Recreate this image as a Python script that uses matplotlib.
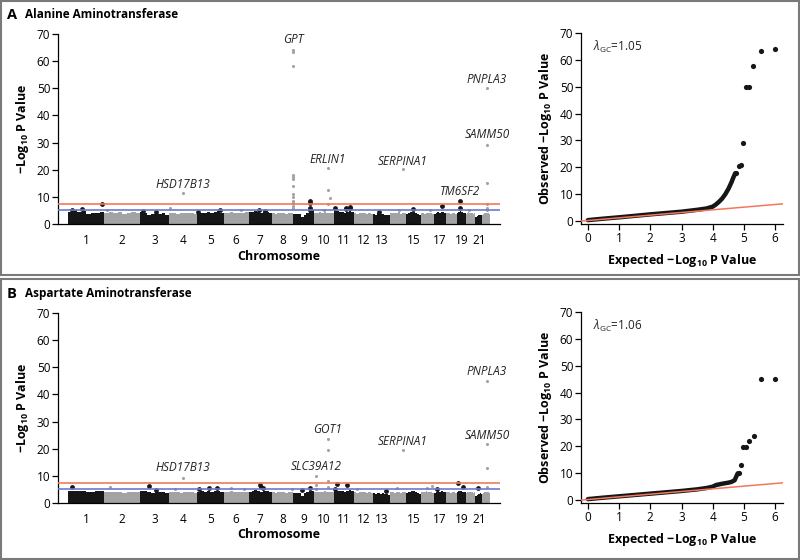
import numpy as np
import matplotlib
matplotlib.use('Agg')
import matplotlib.pyplot as plt
from matplotlib.patches import Rectangle

plt.rcParams['font.family'] = ['Open Sans', 'DejaVu Sans']
plt.rcParams['mathtext.fontset'] = 'custom'
plt.rcParams['mathtext.rm'] = 'Open Sans'
plt.rcParams['mathtext.it'] = 'Open Sans:italic'
plt.rcParams['mathtext.bf'] = 'Open Sans:bold'

# chromosome lengths (Mb), used as the x scale of the Manhattan plots
chrom_len = [249, 243, 198, 191, 181, 171, 159, 146, 141, 136, 135, 134,
             115, 107, 103, 90, 81, 78, 59, 63, 48, 51]
chrom_tick_labels = ['1', '2', '3', '4', '5', '6', '7', '8', '9', '10', '11', '12',
                     '13', '', '15', '', '17', '', '19', '', '21', '']

# upper edge of the dense mass of SNPs, per chromosome
sky_A = [[4.6, 5.2, 4.5, 4.8, 3.8, 4.2, 4.0, 4.4],
         [4.2, 4.3, 4.0, 4.4, 3.8, 4.1, 4.3, 4.0],
         [4.5, 4.2, 3.5, 3.8, 4.0, 3.6, 3.9, 3.4],
         [4.0, 4.2, 3.8, 4.0, 4.1, 3.9, 4.0, 3.8],
         [3.8, 4.2, 3.9, 4.3, 4.0, 4.4, 4.7, 4.0],
         [4.2, 4.0, 4.5, 4.1, 3.9, 4.2, 4.0, 4.3],
         [4.3, 4.5, 4.8, 4.3, 4.0, 4.5, 4.6, 4.2],
         [4.0, 3.8, 4.2, 3.9, 4.1, 3.8, 4.0, 4.2],
         [3.8, 3.8, 3.7, 2.4, 3.5, 4.0, 4.5, 5.0],
         [4.2, 4.0, 4.3, 4.1, 4.5, 4.2, 3.9, 4.0],
         [5.5, 4.8, 4.3, 4.5, 4.0, 4.6, 5.0, 4.5],
         [4.0, 3.8, 4.2, 3.9, 4.1, 3.7, 4.0, 3.8],
         [3.8, 3.5, 4.0, 3.6, 3.8, 3.4, 3.3, 3.2],
         [4.0, 4.2, 3.9, 4.1, 4.3, 3.8, 4.0, 4.1],
         [3.8, 4.0, 4.3, 4.6, 4.5, 4.2, 3.8, 3.5],
         [4.0, 4.1, 3.8, 4.2, 4.0, 3.9, 4.0, 3.8],
         [3.8, 4.2, 4.5, 4.2, 4.0, 4.6, 4.3, 4.0],
         [3.9, 4.0, 4.2, 3.8, 4.0, 4.1, 3.7, 3.8],
         [4.2, 4.6, 4.8, 4.5, 4.3, 4.2, 4.0, 4.1],
         [3.8, 4.0, 4.3, 4.0, 3.9, 4.1, 3.8, 4.0],
         [2.5, 2.6, 2.8, 3.2, 3.4, 3.5, 3.6, 3.3],
         [3.5, 3.8, 4.0, 4.1, 3.9, 4.2, 4.0, 3.7]]

sky_B = [[4.4, 4.6, 4.3, 4.5, 3.9, 4.2, 4.4, 4.5],
         [4.0, 4.2, 3.9, 4.1, 3.8, 4.0, 4.2, 3.9],
         [4.4, 4.6, 4.0, 3.8, 4.2, 4.0, 3.9, 3.6],
         [4.0, 3.9, 4.1, 3.8, 4.0, 3.9, 4.0, 3.8],
         [3.9, 4.3, 4.0, 4.5, 4.2, 4.4, 4.3, 4.0],
         [4.1, 4.0, 4.3, 4.0, 3.9, 4.2, 4.0, 4.1],
         [4.2, 4.5, 4.7, 4.3, 4.0, 4.4, 4.5, 4.1],
         [3.9, 3.8, 4.1, 3.9, 4.0, 3.8, 4.0, 4.1],
         [3.8, 3.7, 3.6, 2.4, 3.6, 4.0, 4.3, 4.6],
         [4.0, 4.1, 4.2, 4.0, 4.3, 4.1, 3.9, 4.0],
         [4.8, 4.5, 4.3, 4.4, 4.0, 4.5, 4.7, 4.3],
         [3.9, 3.8, 4.1, 3.9, 4.0, 3.7, 3.9, 3.8],
         [3.6, 3.4, 3.8, 3.5, 3.6, 3.3, 3.2, 3.1],
         [3.9, 4.1, 3.8, 4.0, 4.2, 3.8, 3.9, 4.0],
         [3.8, 4.0, 4.2, 4.4, 4.3, 4.1, 3.8, 3.5],
         [4.0, 4.2, 3.9, 4.3, 4.1, 3.9, 4.0, 3.8],
         [3.8, 4.1, 4.4, 4.2, 4.0, 4.4, 4.2, 3.9],
         [3.9, 4.0, 4.1, 3.8, 4.0, 4.0, 3.7, 3.8],
         [4.1, 4.4, 4.6, 4.4, 4.2, 4.1, 4.0, 4.0],
         [3.8, 4.0, 4.2, 4.0, 3.9, 4.0, 3.8, 3.9],
         [2.6, 2.7, 3.0, 3.3, 3.5, 3.6, 3.7, 3.4],
         [3.5, 3.7, 3.9, 4.0, 3.9, 4.1, 3.9, 3.6]]

# SNPs standing out of the mass: chromosome, position (Mb), -log10 P
hits_A_chrom = [1, 1, 1, 2, 3, 3, 4, 4, 5, 5, 6, 7, 7,
                8, 8, 8, 8, 8, 8, 8, 8, 8, 8, 8, 8, 8,
                9, 9, 9, 9, 10, 10, 10, 10, 10, 11, 11, 11, 11, 11,
                13, 14, 14, 15, 16, 17, 19, 19, 20, 22, 22, 22, 22, 22, 22]
hits_A_pos = [27, 95, 232, 17, 20, 108, 6, 95, 6, 156, 119, 71, 112,
              144, 144, 144, 144, 144, 144, 144, 144, 144, 144, 144, 144, 144,
              114, 114, 114, 114, 68, 96, 96, 96, 109, 8, 83, 83, 110, 110,
              40, 60, 88, 49, 60, 54, 19, 19, 20, 33, 33, 33, 33, 33, 33]
hits_A_val = [5.3, 5.5, 7.3, 5.2, 4.8, 4.3, 6.0, 11.3, 4.5, 5.3, 5.2, 5.3, 4.8,
              64.2, 63.5, 58.2, 18.0, 17.3, 16.5, 14.0, 11.0, 10.0, 8.6, 7.8, 6.5, 5.8,
              8.3, 7.7, 6.0, 5.1, 5.2, 20.5, 12.7, 7.5, 9.5, 5.9, 6.0, 5.5, 6.4, 5.8,
              4.3, 5.3, 20.3, 5.5, 5.3, 6.5, 8.3, 5.9, 5.3, 50.0, 29.0, 15.1, 7.5, 6.0, 5.2]

hits_B_chrom = [1, 2, 3, 3, 4, 4, 5, 5, 5, 6, 6, 7, 7, 7, 8, 9, 9,
                10, 10, 10, 10, 10, 10, 10, 11, 11, 11, 12, 13, 14, 14,
                16, 16, 17, 19, 19, 21, 22, 22, 22, 22]
hits_B_pos = [27, 38, 61, 108, 40, 95, 12, 80, 135, 50, 140, 80, 85, 95, 140, 60, 114,
              15, 15, 15, 96, 96, 96, 96, 10, 22, 90, 20, 90, 50, 88,
              40, 75, 20, 5, 40, 19, 33, 33, 33, 33]
hits_B_val = [5.9, 5.9, 6.3, 4.9, 5.0, 9.2, 5.3, 5.5, 5.5, 5.5, 5.3, 6.7, 6.0, 5.5, 5.3, 4.8, 5.5,
              10.0, 6.6, 5.3, 23.6, 19.5, 8.1, 5.9, 5.3, 7.0, 6.5, 5.3, 4.5, 5.5, 19.5,
              5.7, 6.2, 5.3, 7.2, 5.8, 5.5, 45.0, 21.7, 12.9, 5.9]

# gene names: chromosome, position (Mb), height of the label
genes_A = ['HSD17B13', 'GPT', 'ERLIN1', 'SERPINA1', 'TM6SF2', 'SAMM50', 'PNPLA3']
genes_A_chrom = [4, 8, 10, 14, 19, 22, 22]
genes_A_pos = [95, 144, 96, 88, 19, 33, 33]
genes_A_y = [14.7, 67.8, 23.9, 23.2, 11.8, 32.8, 53.4]

genes_B = ['HSD17B13', 'SLC39A12', 'GOT1', 'SERPINA1', 'SAMM50', 'PNPLA3']
genes_B_chrom = [4, 10, 10, 14, 22, 22]
genes_B_pos = [95, 15, 96, 88, 33, 33]
genes_B_y = [12.9, 13.3, 26.9, 22.8, 25.0, 48.6]

# QQ plots: dense part as a curve, the top SNPs as single points
qq_A_x = [0, 0.5, 1, 1.5, 2, 2.5, 3, 3.5, 3.8, 4.0, 4.1, 4.2, 4.3, 4.4, 4.5, 4.6, 4.65, 4.72]
qq_A_y = [0.15, 0.7, 1.2, 1.75, 2.3, 2.8, 3.3, 4.0, 4.5, 5.2, 6.0, 7.0, 8.2, 9.8, 11.8, 14.3, 15.8, 17.7]
qq_A_tail_x = [4.76, 4.83, 4.89, 4.96, 5.05, 5.16, 5.29, 5.53, 6.0]
qq_A_tail_y = [17.9, 20.4, 20.6, 28.9, 49.8, 49.8, 57.9, 63.3, 64.1]

qq_B_x = [0, 0.5, 1, 1.5, 2, 2.5, 3, 3.5, 3.8, 4.0, 4.1, 4.3, 4.5, 4.6, 4.7, 4.75, 4.8]
qq_B_y = [0.15, 0.7, 1.2, 1.7, 2.2, 2.7, 3.2, 3.8, 4.3, 4.8, 5.4, 5.9, 6.3, 6.6, 7.2, 8.5, 9.8]
qq_B_tail_x = [4.85, 4.89, 4.97, 5.06, 5.16, 5.31, 5.53, 6.0]
qq_B_tail_y = [10.0, 12.8, 19.6, 19.6, 21.8, 23.7, 45.2, 45.2]

lambda_A = '1.05'
lambda_B = '1.06'

BLACK = '#161616'
GRAY = '#a3a3a3'
RED = '#f2785c'
BLUE = '#6a7bd0'

starts = np.concatenate([[0], np.cumsum(chrom_len)[:-1]])
centers = starts + np.array(chrom_len) / 2
ylab = r'−Log$_{\mathbf{10}}$ P Value'


def cum_pos(chroms, pos):
    return np.array([starts[c - 1] + p for c, p in zip(chroms, pos)])


def manhattan(ax, sky, h_chrom, h_pos, h_val, g_names, g_chrom, g_pos, g_y):
    for i, vals in enumerate(sky):
        col = BLACK if i % 2 == 0 else GRAY
        edges = np.linspace(starts[i], starts[i] + chrom_len[i], len(vals) + 1)
        ax.stairs(vals, edges, fill=True, baseline=0, color=col, lw=0, zorder=2)
    xs = cum_pos(h_chrom, h_pos)
    odd = np.array(h_chrom) % 2 == 1
    ax.scatter(xs[~odd], np.array(h_val)[~odd], s=5, color=GRAY, lw=0, zorder=3)
    ax.scatter(xs[odd], np.array(h_val)[odd], s=12, color=BLACK, lw=0, zorder=4)
    ax.axhline(7.3, color=RED, lw=1.2, zorder=5)
    ax.axhline(5.0, color=BLUE, lw=1.2, zorder=5)
    gx = cum_pos(g_chrom, g_pos)
    for name, x, y in zip(g_names, gx, g_y):
        ax.text(x, y, name, ha='center', va='center', fontsize=8.5,
                fontstyle='italic', color='#222222')
    ax.set_xlim(-68, 2949)
    ax.set_ylim(0, 70)
    ax.set_yticks(range(0, 71, 10))
    ax.set_xticks(centers)
    ax.set_xticklabels(chrom_tick_labels)
    ax.tick_params(axis='x', length=0, pad=7, labelsize=8.5)
    ax.tick_params(axis='y', length=4, width=0.9, pad=1.5, labelsize=8.5)
    for s in ['top', 'right']:
        ax.spines[s].set_visible(False)
    for s in ['left', 'bottom']:
        ax.spines[s].set_linewidth(0.9)
    ax.set_xlabel('Chromosome', fontweight='bold', fontsize=9, labelpad=2)
    ax.set_ylabel(ylab, fontweight='bold', fontsize=9, labelpad=4)


def qqplot(ax, qx, qy, tx, ty, lam):
    ax.plot(qx, qy, color=BLACK, lw=3.2, solid_capstyle='round', zorder=3)
    ax.scatter(tx, ty, s=14, color=BLACK, lw=0, zorder=3)
    ax.plot([-0.3, 6.3], [-0.3, 6.3], color=RED, lw=1.1, zorder=4)
    ax.text(0.16, 64.9, r'$\lambda_{\mathrm{GC}}$=' + lam, fontsize=8.5,
            ha='left', va='center', color='#222222')
    ax.set_xlim(-0.22, 6.25)
    ax.set_ylim(-1.3, 70)
    ax.set_xticks(range(0, 7))
    ax.set_yticks(range(0, 71, 10))
    ax.tick_params(axis='both', length=4, width=0.9, pad=1.5, labelsize=8.5)
    for s in ['top', 'right']:
        ax.spines[s].set_visible(False)
    for s in ['left', 'bottom']:
        ax.spines[s].set_linewidth(0.9)
    ax.set_xlabel(r'Expected −Log$_{\mathbf{10}}$ P Value', fontweight='bold', fontsize=9, labelpad=5)
    ax.set_ylabel(r'Observed −Log$_{\mathbf{10}}$ P Value', fontweight='bold', fontsize=9, labelpad=4)


W, H = 800, 560
fig = plt.figure(figsize=(8, 5.6), dpi=100)


def box(x0, y0, x1, y1):
    return [x0 / W, 1 - y1 / H, (x1 - x0) / W, (y1 - y0) / H]


fig.add_artist(Rectangle((1 / W, 1 - 275 / H), 798 / W, 274 / H, transform=fig.transFigure,
                         fill=False, edgecolor='#7a7a7a', lw=1.5))
fig.add_artist(Rectangle((1 / W, 1 / H), 798 / W, 280 / H, transform=fig.transFigure,
                         fill=False, edgecolor='#7a7a7a', lw=1.5))

panels = [('A', 'Alanine Aminotransferase', 0, sky_A, hits_A_chrom, hits_A_pos, hits_A_val,
           genes_A, genes_A_chrom, genes_A_pos, genes_A_y, qq_A_x, qq_A_y, qq_A_tail_x, qq_A_tail_y, lambda_A),
          ('B', 'Aspartate Aminotransferase', 279, sky_B, hits_B_chrom, hits_B_pos, hits_B_val,
           genes_B, genes_B_chrom, genes_B_pos, genes_B_y, qq_B_x, qq_B_y, qq_B_tail_x, qq_B_tail_y, lambda_B)]

for (letter, title, off, sky, hc, hp, hv, gn, gc, gp, gy, qx, qy, tx, ty, lam) in panels:
    fig.text(7 / W, 1 - (15 + off) / H, letter, fontsize=10.5, fontweight='bold', va='center')
    fig.text(25 / W, 1 - (15 + off) / H, title, fontsize=8.5, fontweight='bold', va='center')
    ax_m = fig.add_axes(box(58, 34 + off, 500, 224 + off))
    manhattan(ax_m, sky, hc, hp, hv, gn, gc, gp, gy)
    ax_q = fig.add_axes(box(581, 33.3 + off, 783, 224 + off))
    qqplot(ax_q, qx, qy, tx, ty, lam)

fig.savefig('out.png', dpi=100)
